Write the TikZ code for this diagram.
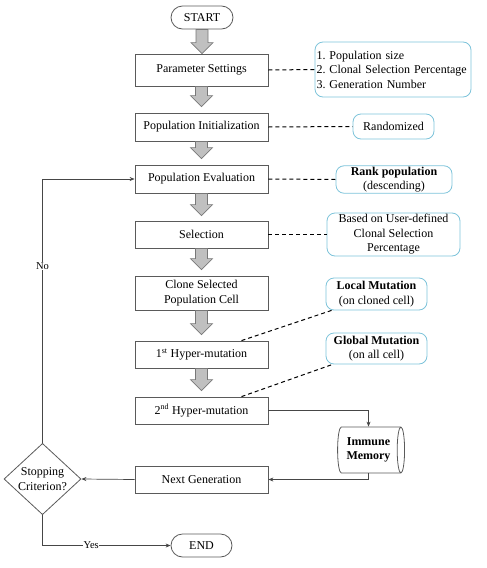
\documentclass[tikz,border=0pt]{standalone}
\usepackage{fontspec}
\setmainfont{Liberation Serif}
\usetikzlibrary{shapes.geometric,arrows.meta,calc}
\definecolor{notec}{RGB}{125,195,218}
\definecolor{linec}{RGB}{70,70,70}
\definecolor{boxc}{RGB}{90,90,90}
\definecolor{fatfill}{RGB}{192,192,192}
\definecolor{fatdraw}{RGB}{120,120,120}
\newcommand{\fatarrow}[3]{%
  \filldraw[fatstyle] let \p1=(#1.south), \p2=(#2.north) in
    (\x1-6pt,\y1) -- (\x1-6pt,\y2+#3+11pt) -- (\x1-11pt,\y2+#3+11pt) -- (\x1,\y2+#3)
    -- (\x1+11pt,\y2+#3+11pt) -- (\x1+6pt,\y2+#3+11pt) -- (\x1+6pt,\y1) -- cycle;}
\frenchspacing
\begin{document}
\begin{tikzpicture}[x=1pt,y=-1pt,
  every node/.style={font=\fontsize{12}{14.5}\selectfont, inner sep=1pt},
  stepbox/.style={draw=boxc, line width=0.8pt, minimum width=133pt, align=center},
  term/.style={draw=boxc, line width=0.8pt, rounded corners=11.5pt, minimum height=23pt},
  note/.style={draw=notec, line width=0.8pt, rounded corners=8pt, align=center},
  fatstyle/.style={fill=fatfill, draw=fatdraw, line width=0.7pt},
  dashline/.style={draw=black, line width=1pt, dash pattern=on 4pt off 3pt},
  conn/.style={draw=linec, line width=0.7pt, -{Stealth[length=5pt,width=4pt]}},
  lab/.style={font=\fontsize{10.5}{12}\selectfont, fill=white, inner sep=0.5pt}]
\useasboundingbox (0,0) rectangle (487,568);

% terminals
\node[term, minimum width=62pt] (start) at (202,17.5) {START};
\node[term, minimum width=61pt] (end) at (201.5,545.5) {END};

% main steps
\node[stepbox, minimum height=32pt] (param) at (201.5,70) {Parameter Settings};
\node[stepbox, minimum height=28pt] (init) at (201.5,127) {Population Initialization};
\node[stepbox, minimum height=28pt] (eval) at (201.5,179) {Population Evaluation};
\node[stepbox, minimum height=27pt] (sel) at (201.5,234.5) {Selection};
\node[stepbox, minimum height=34pt] (clone) at (201.5,293) {Clone Selected\\Population Cell};
\node[stepbox, minimum height=27pt] (hmone) at (201.5,354.5) {1\textsuperscript{st} Hyper-mutation};
\node[stepbox, minimum height=27pt] (hmtwo) at (201.5,410.5) {2\textsuperscript{nd} Hyper-mutation};
\node[stepbox, minimum height=27pt] (next) at (201.5,479.5) {Next Generation};

% decision
\node[diamond, draw=boxc, line width=0.8pt, minimum width=77pt, minimum height=66pt,
  inner sep=0pt, align=center] (stop) at (42.5,479) {Stopping\\Criterion?};

% memory
\node[cylinder, draw=boxc, line width=0.8pt, minimum width=46pt, minimum height=67pt,
  aspect=0.28, align=center, font=\fontsize{12}{14}\selectfont\bfseries] (mem) at (368.5,450) {Immune\\Memory};

% notes
\node[note, minimum width=156pt, minimum height=55pt, align=left, text width=153pt, inner sep=1.5pt] (nparam) at (393,69.5)
  {1. Population size\\2. Clonal Selection Percentage\\3. Generation Number};
\node[note, minimum width=81pt, minimum height=25pt] (ninit) at (393.5,126.5) {Randomized};
\node[note, minimum width=116pt, minimum height=27pt] (neval) at (394,179.5) {\textbf{Rank population}\\(descending)};
\node[note, minimum width=133pt, minimum height=43pt] (nsel) at (393.5,234.5) {Based on User-defined\\Clonal Selection\\Percentage};
\node[note, minimum width=101pt, minimum height=32pt] (nloc) at (376.5,294) {\textbf{Local Mutation}\\(on cloned cell)};
\node[note, minimum width=101pt, minimum height=31pt] (nglob) at (376.5,348.5) {\textbf{Global Mutation}\\(on all cell)};

% fat arrows
\fatarrow{start}{param}{0pt}
\fatarrow{param}{init}{6pt}
\fatarrow{init}{eval}{6pt}
\fatarrow{eval}{sel}{5pt}
\fatarrow{sel}{clone}{6pt}
\fatarrow{clone}{hmone}{6pt}
\fatarrow{hmone}{hmtwo}{6pt}

% dashed links
\draw[dashline] (param.east) -- (nparam.west);
\draw[dashline] (init.east) -- (ninit.west);
\draw[dashline] (eval.east) -- (neval.west);
\draw[dashline] (sel.east) -- (nsel.west);
\draw[dashline] ([xshift=40pt]hmone.north) -- ([xshift=6pt]nloc.south west);
\draw[dashline] ([xshift=40pt]hmtwo.north) -- ([xshift=7pt]nglob.south west);

% connectors
\draw[conn] (hmtwo.east) -| (mem.north);
\draw[conn] (mem.south) |- (next.east);
\draw[conn] (next.west) -- (stop.east);
\draw[conn] (stop.north) |- node[lab, pos=0.335] {No} (eval.west);
\draw[conn] (stop.south) |- node[lab, pos=0.69] {Yes} (end.west);
\end{tikzpicture}
\end{document}
